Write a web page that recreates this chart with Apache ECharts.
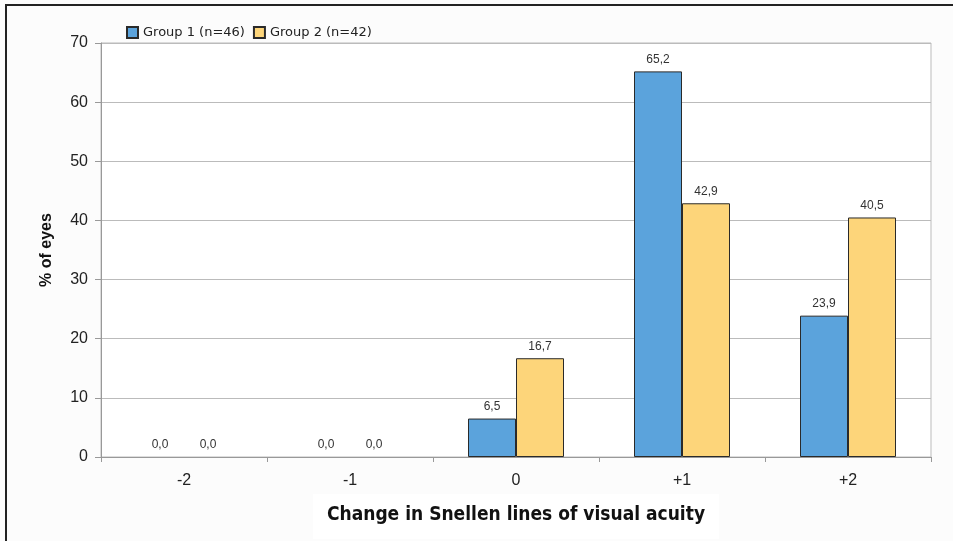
<!DOCTYPE html>
<html>
<head>
<meta charset="utf-8">
<script src="https://cdn.jsdelivr.net/npm/echarts@6/dist/echarts.min.js"></script>
<style>
html,body{margin:0;padding:0;background:#fff;}
#chart{width:953px;height:541px;}
</style>
</head>
<body>
<div id="chart"></div>
<script>
var categories = ['-2', '-1', '0', '+1', '+2'];
var group1 = [0.0, 0.0, 6.5, 65.2, 23.9];
var group2 = [0.0, 0.0, 16.7, 42.9, 40.5];
var seriesNames = ['Group 1 (n=46)', 'Group 2 (n=42)'];
var yTicks = [0, 10, 20, 30, 40, 50, 60, 70];

var chart = echarts.init(document.getElementById('chart'), null, {renderer: 'canvas'});
function fmt(p) { return p.value.toFixed(1).replace('.', ','); }
function items(arr) {
  return arr.map(function (v) { return v === 0 ? {value: v, itemStyle: {borderWidth: 0}} : v; });
}
var labelStyle = {show: true, position: 'top', distance: 6, formatter: fmt, fontFamily: 'Liberation Sans, Arial', fontSize: 12, color: '#333'};
chart.setOption({
  backgroundColor: '#fcfcfc',
  animation: false,
  graphic: [{
    type: 'rect', shape: {x: 6, y: 5, width: 1000, height: 600},
    style: {fill: 'none', stroke: '#222', lineWidth: 2}, z: 100, silent: true
  }],
  legend: {
    left: 121, top: 21, itemWidth: 11, itemHeight: 11, itemGap: 8, icon: 'rect',
    textStyle: {fontFamily: 'DejaVu Sans', fontSize: 13, color: '#222'},
    data: seriesNames
  },
  grid: {left: 101, right: 22, top: 43, bottom: 84, outerBoundsMode: 'none', containLabel: false,
    show: true, backgroundColor: '#fff', borderColor: '#bbb', borderWidth: 1},
  xAxis: {
    type: 'category', data: categories,
    axisLine: {lineStyle: {color: '#999', width: 1}},
    axisTick: {show: true, length: 5, lineStyle: {color: '#999'}},
    axisLabel: {margin: 16, fontFamily: 'Liberation Sans, Arial', fontSize: 16, color: '#222'},
    name: 'Change in Snellen lines of visual acuity',
    nameLocation: 'middle', nameGap: 34,
    nameTextStyle: {fontFamily: 'Liberation Sans Narrow, DejaVu Sans Condensed', fontWeight: 'bold', fontSize: 19, color: '#111', backgroundColor: '#fff', padding: [12, 14, 14, 14]}
  },
  yAxis: {
    type: 'value', min: 0, max: 70, interval: 10,
    axisLine: {show: true, lineStyle: {color: '#999', width: 1}},
    axisTick: {show: true, length: 6, lineStyle: {color: '#999'}},
    axisLabel: {margin: 13, fontFamily: 'Liberation Sans, Arial', fontSize: 16, color: '#222',
      formatter: function (v) { return yTicks.indexOf(v) >= 0 ? String(v) : ''; }},
    splitLine: {lineStyle: {color: '#bbb', width: 1}},
    name: '% of eyes', nameLocation: 'middle', nameGap: 46, nameRotate: 90,
    nameTextStyle: {fontFamily: 'Liberation Sans, Arial', fontWeight: 'bold', fontSize: 16, color: '#111'}
  },
  series: [{
    name: seriesNames[0], type: 'bar', data: items(group1), barWidth: 48, barGap: '0%',
    itemStyle: {color: '#5ba3dc', borderColor: '#2a2a2a', borderWidth: 1},
    label: labelStyle
  }, {
    name: seriesNames[1], type: 'bar', data: items(group2), barWidth: 48,
    itemStyle: {color: '#fdd57a', borderColor: '#2a2a2a', borderWidth: 1},
    label: labelStyle
  }]
});
</script>
</body>
</html>
